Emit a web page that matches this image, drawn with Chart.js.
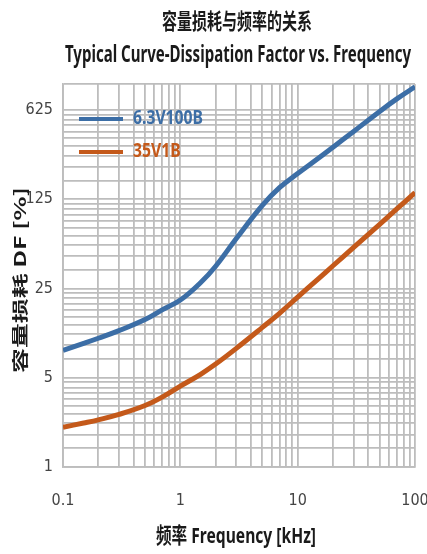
<!DOCTYPE html>
<html>
<head>
<meta charset="utf-8">
<title>容量损耗与频率的关系</title>
<script src="https://cdn.jsdelivr.net/npm/chart.js@4/dist/chart.umd.min.js"></script>
<style>
  html, body { margin: 0; padding: 0; background: #fff; }
  #wrap { width: 427px; height: 554px; }
</style>
</head>
<body>
<div id="wrap"><canvas id="dfChart" width="427" height="554"></canvas></div>
<script>
// values
const freqs = [0.1, 0.15, 0.2, 0.3, 0.5, 0.7, 1, 1.5, 2, 3, 5, 7, 10, 15, 20, 30, 50, 70, 100];
const df63V100B = [8.2, 9.3, 10.2, 11.7, 14.3, 17.0, 20.3, 28, 37.4, 61.6, 112, 154, 199, 262, 320, 425, 610, 764, 950];
const df35V1B = [2.05, 2.21, 2.34, 2.58, 3.03, 3.53, 4.3, 5.35, 6.4, 8.5, 12.4, 16, 21.4, 29.8, 37.7, 52.5, 79.6, 105, 141];
const seriesNames = ['6.3V100B', '35V1B'];
const seriesColors = ['#3c6ea6', '#c4591a'];

const yMajorTicks = [1, 5, 25, 125, 625];
const yMinorSteps = [1, 1.4, 1.8, 2.2, 2.6, 3, 3.4, 3.8, 4.2, 4.6];
const yMin = 1, yMax = 1000;
const xLabelTicks = [0.1, 1, 10, 100];
const xMin = 0.1, xMax = 100;

const titleCn = '容量损耗与频率的关系';
const titleEn = 'Typical Curve-Dissipation Factor vs. Frequency';
const xTitle = '频率 Frequency [kHz]';
const yTitle = '容量损耗 DF [%]';

const gridColor = '#bdbdbd';
const textColor = '#1a1a1a';
const boldFont = '"Noto Sans", "Noto Sans CJK SC", sans-serif';
const tickFont = '"Liberation Sans Narrow", "DejaVu Sans Condensed", "Liberation Sans", sans-serif';

// draw text squeezed / stretched along its direction to a given length
function fitText(ctx, text, x, y, font, length, angle, align) {
  ctx.save();
  ctx.font = font;
  ctx.textAlign = align || 'center';
  ctx.textBaseline = 'middle';
  const w = ctx.measureText(text).width;
  ctx.translate(x, y);
  if (angle) ctx.rotate(angle);
  ctx.scale(length / w, 1);
  ctx.fillText(text, 0, 0);
  ctx.restore();
}

const textPlugin = {
  id: 'textPlugin',
  afterDraw(chart) {
    const { ctx, chartArea } = chart;
    const cx = (chartArea.left + chartArea.right) / 2;
    ctx.save();
    ctx.fillStyle = textColor;
    fitText(ctx, titleCn, cx - 2, 21, 'bold 22px "Noto Sans CJK SC"', 150);
    fitText(ctx, titleEn, cx - 1, 55, 'bold 23px ' + boldFont, 346);
    fitText(ctx, xTitle, cx - 3, 537, 'bold 22px ' + boldFont, 160);
    fitText(ctx, yTitle, 20, 280, 'bold 16px "Noto Sans CJK SC", "Noto Sans", sans-serif', 186, -Math.PI / 2);

    // legend inside the plot, top left
    ctx.font = 'bold 19px ' + boldFont;
    const squeeze = 70 / ctx.measureText(seriesNames[0]).width;
    chart.data.datasets.forEach((ds, i) => {
      const ly = chartArea.top + 35 + i * 33;
      ctx.strokeStyle = ds.borderColor;
      ctx.lineWidth = 4;
      ctx.beginPath();
      ctx.moveTo(chartArea.left + 16, ly);
      ctx.lineTo(chartArea.left + 60, ly);
      ctx.stroke();
      ctx.fillStyle = ds.borderColor;
      const w = ctx.measureText(ds.label).width;
      fitText(ctx, ds.label, chartArea.left + 70, ly, 'bold 19px ' + boldFont, w * squeeze, 0, 'left');
    });
    ctx.restore();
  }
};

const datasets = [df63V100B, df35V1B].map((vals, i) => ({
  label: seriesNames[i],
  data: freqs.map((f, j) => ({ x: f, y: vals[j] })),
  borderColor: seriesColors[i],
  backgroundColor: seriesColors[i],
  borderWidth: 5,
  pointRadius: 0,
  fill: false,
  tension: 0.4
}));

new Chart(document.getElementById('dfChart').getContext('2d'), {
  type: 'line',
  data: { datasets: datasets },
  options: {
    responsive: false,
    animation: false,
    layout: { padding: { top: 84, right: 12, left: 0, bottom: 0 } },
    plugins: {
      legend: { display: false },
      title: { display: false },
      tooltip: { enabled: false }
    },
    scales: {
      x: {
        type: 'logarithmic',
        min: xMin,
        max: xMax,
        afterBuildTicks(scale) {
          const ticks = [];
          for (let d = 0.1; d < xMax; d *= 10) {
            for (let k = 1; k < 10; k++) ticks.push({ value: +(k * d).toPrecision(3) });
          }
          ticks.push({ value: xMax });
          scale.ticks = ticks;
        },
        afterFit(scale) {
          scale.height = 87;
          scale.paddingLeft = 0;
          scale.paddingRight = 0;
        },
        grid: { color: gridColor, lineWidth: 1.8, drawTicks: false },
        border: { color: gridColor, width: 1.8 },
        ticks: {
          autoSkip: false,
          maxRotation: 0,
          padding: 24,
          color: '#444',
          font: { family: tickFont, size: 16 },
          callback: (v) => xLabelTicks.some(t => Math.abs(t - v) < 1e-9) ? String(v) : ''
        }
      },
      y: {
        type: 'logarithmic',
        min: yMin,
        max: yMax,
        afterBuildTicks(scale) {
          const ticks = [];
          for (let n = 0; n < 4; n++) {
            yMinorSteps.forEach(s => ticks.push({ value: s * Math.pow(5, n) }));
          }
          ticks.push({ value: 625 });
          ticks.push({ value: yMax });
          scale.ticks = ticks;
        },
        afterFit(scale) { scale.width = 63; },
        grid: { color: gridColor, lineWidth: 1.8, drawTicks: false },
        border: { color: gridColor, width: 1.8 },
        ticks: {
          autoSkip: false,
          padding: 10,
          color: '#444',
          font: { family: tickFont, size: 16 },
          callback: (v) => yMajorTicks.some(t => Math.abs(t - v) < 1e-6) ? String(v) : ''
        }
      }
    }
  },
  plugins: [textPlugin]
});
</script>
</body>
</html>
